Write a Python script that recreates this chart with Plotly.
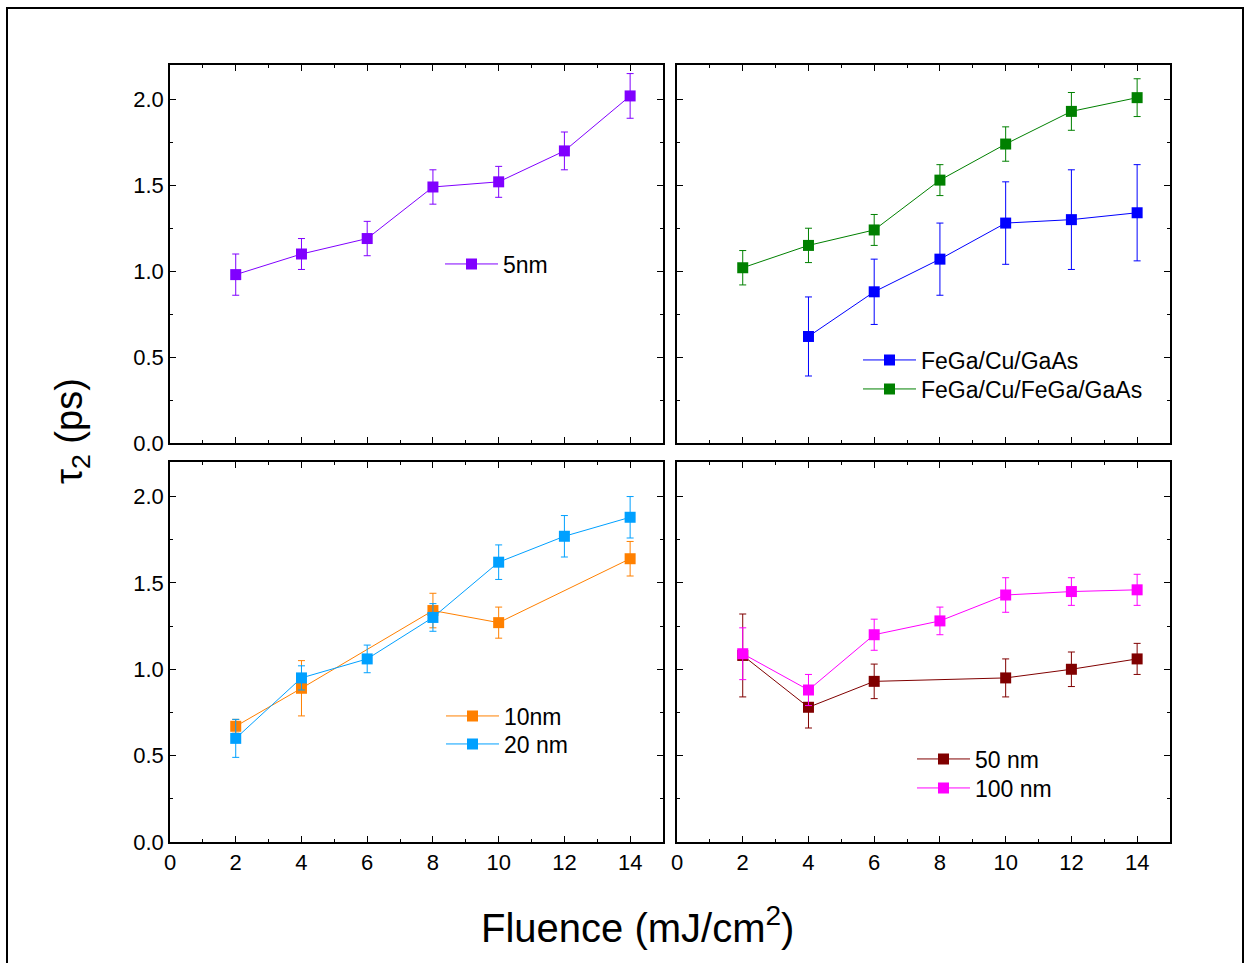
import plotly.graph_objects as go

W, H = 1252, 963

# ---------------- data ----------------
x_all = [2, 4, 6, 8, 10, 12, 14]

# top-left
y_5nm = [0.98, 1.10, 1.19, 1.49, 1.52, 1.70, 2.02]
e_5nm = [0.12, 0.09, 0.10, 0.10, 0.09, 0.11, 0.13]

# top-right
x_cu = [4, 6, 8, 10, 12, 14]
y_cu = [0.62, 0.88, 1.07, 1.28, 1.30, 1.34]
e_cu = [0.23, 0.19, 0.21, 0.24, 0.29, 0.28]
y_fecu = [1.02, 1.15, 1.24, 1.53, 1.74, 1.93, 2.01]
e_fecu = [0.10, 0.10, 0.09, 0.09, 0.10, 0.11, 0.11]

# bottom-left
x_10nm = [2, 4, 8, 10, 14]
y_10nm = [0.67, 0.89, 1.34, 1.27, 1.64]
e_10nm = [0.04, 0.16, 0.10, 0.09, 0.10]
y_20nm = [0.60, 0.95, 1.06, 1.30, 1.62, 1.77, 1.88]
e_20nm = [0.11, 0.07, 0.08, 0.08, 0.10, 0.12, 0.12]

# bottom-right
x_50nm = [2, 4, 6, 10, 12, 14]
y_50nm = [1.08, 0.78, 0.93, 0.95, 1.00, 1.06]
e_50nm = [0.24, 0.12, 0.10, 0.11, 0.10, 0.09]
y_100nm = [1.09, 0.88, 1.20, 1.28, 1.43, 1.45, 1.46]
e_100nm = [0.15, 0.09, 0.09, 0.08, 0.10, 0.08, 0.09]

x_ticks = [0, 2, 4, 6, 8, 10, 12, 14]
y_ticks = [0.0, 0.5, 1.0, 1.5, 2.0]
y_ticklabels = ["0.0", "0.5", "1.0", "1.5", "2.0"]

# ---------------- figure ----------------
FONT = "Arial, Liberation Sans, sans-serif"
fig = go.Figure()

def px_x(p):
    return p / W

def px_y(p):
    return 1 - p / H

def add(x, y, e, name, color, xa, ya, legend):
    fig.add_trace(go.Scatter(
        x=x, y=y, name=name, mode="lines+markers",
        xaxis=xa, yaxis=ya, legend=legend,
        line=dict(color=color, width=1),
        marker=dict(symbol="square", size=11, color=color),
        error_y=dict(type="data", array=e, visible=True, color=color,
                     thickness=1, width=3.5),
    ))

add(x_all, y_5nm, e_5nm, "5nm", "#8000FF", "x", "y", "legend")
add(x_cu, y_cu, e_cu, "FeGa/Cu/GaAs", "#0000FF", "x2", "y2", "legend2")
add(x_all, y_fecu, e_fecu, "FeGa/Cu/FeGa/GaAs", "#008000", "x2", "y2", "legend3")
add(x_10nm, y_10nm, e_10nm, "10nm", "#FF8000", "x3", "y3", "legend4")
add(x_all, y_20nm, e_20nm, "20 nm", "#00A0FF", "x3", "y3", "legend5")
add(x_50nm, y_50nm, e_50nm, "50 nm", "#800000", "x4", "y4", "legend6")
add(x_all, y_100nm, e_100nm, "100 nm", "#FF00FF", "x4", "y4", "legend7")

xdom_l = [px_x(170), px_x(663)]
xdom_r = [px_x(677), px_x(1170)]
ydom_t = [px_y(443), px_y(65)]
ydom_b = [px_y(842), px_y(462)]

TICKFONT = dict(family=FONT, size=22, color="black")

def xaxis(dom, anchor, labels):
    return dict(domain=dom, anchor=anchor, range=[0, 15],
                tickvals=x_ticks, ticktext=[str(v) for v in x_ticks],
                showticklabels=labels, ticks="inside", ticklen=6,
                tickwidth=1, tickcolor="black",
                minor=dict(ticks="inside", ticklen=3.5, dtick=1, tick0=1,
                           tickcolor="black", showgrid=False),
                showline=True, linecolor="black", linewidth=1.5,
                mirror="allticks", showgrid=False, zeroline=False,
                tickfont=TICKFONT, automargin=False, fixedrange=True)

def yaxis(dom, anchor, labels):
    return dict(domain=dom, anchor=anchor, range=[0, 2.2],
                tickvals=y_ticks, ticktext=y_ticklabels,
                showticklabels=labels, ticks="inside", ticklen=6,
                tickwidth=1, tickcolor="black",
                minor=dict(ticks="inside", ticklen=3.5, dtick=0.5, tick0=0.25,
                           tickcolor="black", showgrid=False),
                showline=True, linecolor="black", linewidth=1.5,
                mirror="allticks", showgrid=False, zeroline=False,
                tickfont=TICKFONT, automargin=False, fixedrange=True)

def legend(line_start_px, center_px):
    return dict(x=px_x(line_start_px - 6), y=px_y(center_px),
                xanchor="left", yanchor="middle",
                bgcolor="rgba(0,0,0,0)", borderwidth=0,
                font=dict(family=FONT, size=23, color="black"),
                itemsizing="trace", itemwidth=53, tracegroupgap=0)

fig.update_layout(
    width=W, height=H,
    margin=dict(l=0, r=0, t=0, b=0),
    paper_bgcolor="white", plot_bgcolor="white",
    showlegend=True,
    xaxis=xaxis(xdom_l, "y", False),
    yaxis=yaxis(ydom_t, "x", True),
    xaxis2=xaxis(xdom_r, "y2", False),
    yaxis2=yaxis(ydom_t, "x2", False),
    xaxis3=xaxis(xdom_l, "y3", True),
    yaxis3=yaxis(ydom_b, "x3", True),
    xaxis4=xaxis(xdom_r, "y4", True),
    yaxis4=yaxis(ydom_b, "x4", False),
    legend=legend(446, 264),
    legend2=legend(864, 360),
    legend3=legend(864, 389),
    legend4=legend(447, 716),
    legend5=legend(447, 744),
    legend6=legend(918, 759),
    legend7=legend(918, 788),
)

fig.add_annotation(text="Fluence (mJ/cm<sup>2</sup>)", xref="paper", yref="paper",
                   x=px_x(637), y=px_y(952), xanchor="center", yanchor="bottom",
                   showarrow=False,
                   font=dict(family=FONT, size=40, color="black"))
fig.add_annotation(text="τ<sub>2</sub> (ps)", xref="paper", yref="paper",
                   x=px_x(72), y=px_y(431), xanchor="center", yanchor="middle",
                   showarrow=False, textangle=-90,
                   font=dict(family=FONT, size=38, color="black"))

# outer frame (open at the bottom edge of the image)
fig.add_shape(type="rect", xref="paper", yref="paper",
              x0=px_x(7), x1=px_x(1243), y0=px_y(1000), y1=px_y(8),
              line=dict(color="black", width=2), fillcolor="rgba(0,0,0,0)")

fig.write_html("out.html")
